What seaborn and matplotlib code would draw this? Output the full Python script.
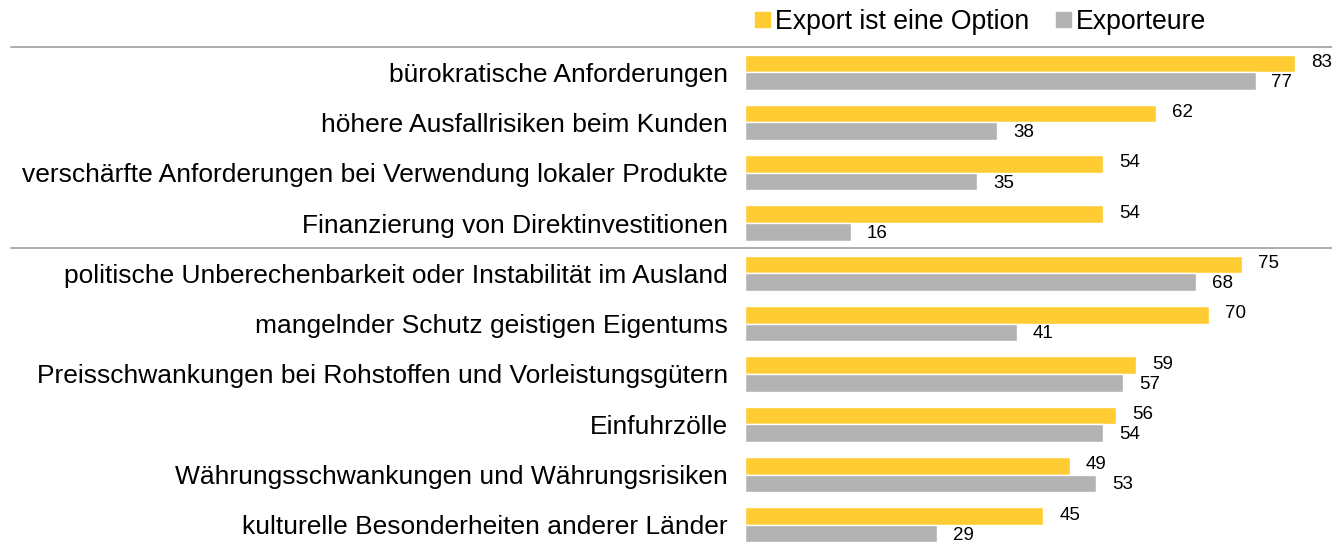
import matplotlib
matplotlib.use("Agg")
import matplotlib.pyplot as plt
import seaborn as sns
import pandas as pd

kategorien = [
    "bürokratische Anforderungen",
    "höhere Ausfallrisiken beim Kunden",
    "verschärfte Anforderungen bei Verwendung lokaler Produkte",
    "Finanzierung von Direktinvestitionen",
    "politische Unberechenbarkeit oder Instabilität im Ausland",
    "mangelnder Schutz geistigen Eigentums",
    "Preisschwankungen bei Rohstoffen und Vorleistungsgütern",
    "Einfuhrzölle",
    "Währungsschwankungen und Währungsrisiken",
    "kulturelle Besonderheiten anderer Länder",
]
export_option = [83, 62, 54, 54, 75, 70, 59, 56, 49, 45]
exporteure = [77, 38, 35, 16, 68, 41, 57, 54, 53, 29]
serien = ["Export ist eine Option", "Exporteure"]
farben = ["#FFCC33", "#B3B3B3"]

df = pd.DataFrame({
    "Kategorie": kategorien * 2,
    "Wert": export_option + exporteure,
    "Gruppe": [serien[0]] * len(kategorien) + [serien[1]] * len(kategorien),
})

sns.set_style("white")
plt.rcParams["font.family"] = ["Liberation Sans", "DejaVu Sans"]
plt.rcParams["text.color"] = "black"
plt.rcParams["ytick.color"] = "black"

W, H = 1332, 543
fig = plt.figure(figsize=(W / 100, H / 100), dpi=100)
ax = fig.add_axes([745 / W, 0, 1 - 745 / W, 1 - 47 / H])

sns.barplot(data=df, y="Kategorie", x="Wert", hue="Gruppe", order=kategorien,
            hue_order=serien, palette=farben, width=0.7, gap=0, saturation=1,
            orient="h", ax=ax, legend=False)

ax.set_xlim(0, (W - 745) / 6.63)
ax.set_ylim(9.36, -0.5)
ax.set_xlabel("")
ax.set_ylabel("")
ax.set_xticks([])
ax.tick_params(axis="y", length=0, pad=12.5, labelsize=19)
for s in ax.spines.values():
    s.set_visible(False)

# Werte rechts neben den Balken
for cont, dy in zip(ax.containers, [-0.02, 0.03]):
    for bar in cont:
        w = bar.get_width()
        y = bar.get_y() + bar.get_height() / 2 + dy
        ax.annotate(f"{w:.0f}", (w, y), xytext=(11.5, 0), textcoords="offset points",
                    ha="left", va="center", fontsize=13.5, annotation_clip=False)

# Trennlinien
for yp in [1 - 47 / H, 1 - 248 / H]:
    fig.add_artist(plt.Line2D([11 / W, 1], [yp, yp], transform=fig.transFigure,
                              color="#A6A6A6", lw=1.3))

# Legende
handles = [plt.Rectangle((0, 0), 1, 1, color=c) for c in farben]
fig.legend(handles, serien, loc="center left", bbox_to_anchor=(755 / W, 1 - 22 / H),
           ncol=2, frameon=False, fontsize=19.2, handlelength=0.55, handleheight=0.5,
           handletextpad=0.2, columnspacing=1.0, borderaxespad=0, borderpad=0)

fig.savefig("out.png", dpi=100)
